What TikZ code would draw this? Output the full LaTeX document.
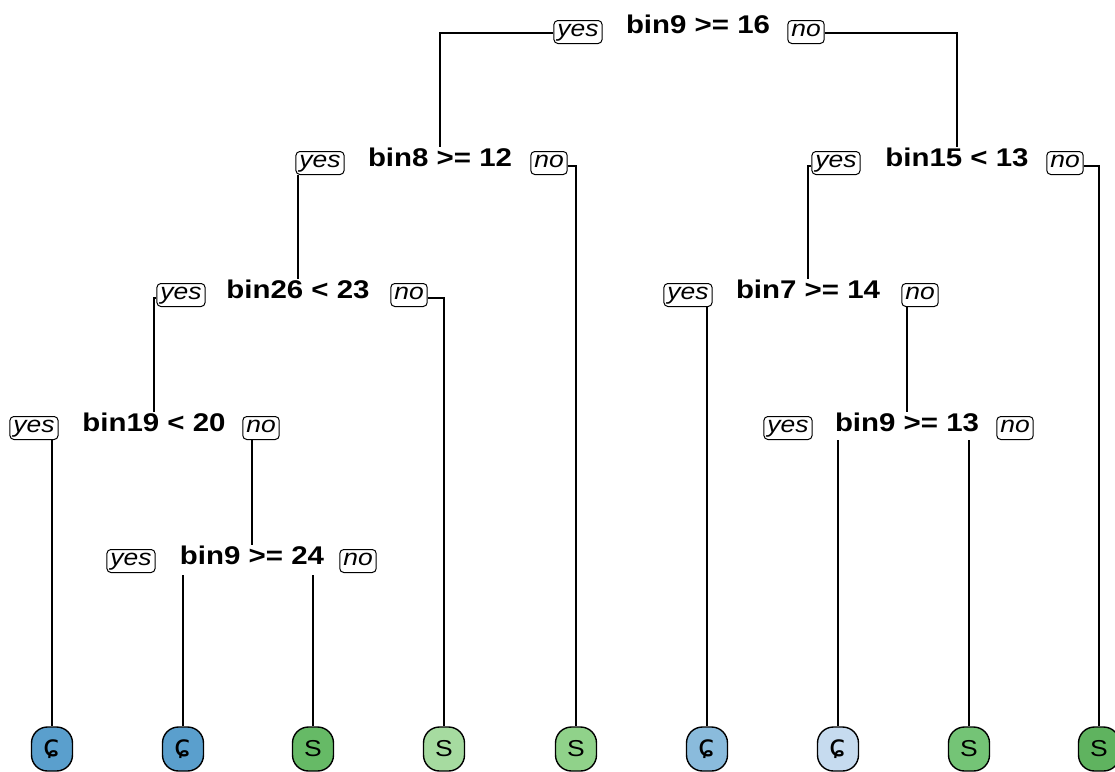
\documentclass[tikz,border=0pt]{standalone}
\usepackage{fontspec}
\setmainfont{Liberation Sans}
\newfontfamily\treefont[FakeStretch=1.15]{Liberation Sans}
\newfontfamily\leaffont[FakeStretch=1.0]{DejaVu Sans}
\usetikzlibrary{positioning}
\usetikzlibrary{calc}
\definecolor{blueA}{HTML}{5A9FCD}
\definecolor{blueB}{HTML}{8ABBDC}
\definecolor{blueC}{HTML}{C6DBEF}
\definecolor{greenA}{HTML}{5FB35F}
\definecolor{greenB}{HTML}{66BA66}
\definecolor{greenC}{HTML}{74C476}
\definecolor{greenD}{HTML}{90D28A}
\definecolor{greenE}{HTML}{A6DBA0}
\newcommand{\curlc}{{\leaffont\fontsize{30}{30}\selectfont ɕ}}

\begin{document}
\begin{tikzpicture}[x=1pt,y=-1pt]
	\tikzset{split/.style = {font=\treefont\bfseries\fontsize{25.6}{28}\selectfont, inner sep=0pt, anchor=base, text depth=0pt},
		yn/.style = {shape=rectangle, rounded corners=4pt, draw, line width=1pt, fill=white, anchor=base,
			font=\treefont\itshape\fontsize{23}{26}\selectfont, inner xsep=3.5pt, inner ysep=2.5pt, text height=13pt, text depth=5pt},
		leaf/.style = {shape=rectangle, rounded corners=16pt, draw, line width=1.4pt, minimum width=41pt, minimum height=44pt,
			inner sep=0pt, font=\treefont\fontsize{23}{26}\selectfont},
		branch/.style = {line width=1.3pt}}
	\useasboundingbox (0,0) rectangle (1115,771);
	
	% splits
	\node[split] (ROOT) at (698,33) {bin9 >= 16};
	\node[yn] (ROOTY) at (578,36) {yes};
	\node[yn] (ROOTN) at (806,36) {no};
	
	\node[split] (BEIGHT) at (440,166) {bin8 >= 12};
	\node[yn] (BEIGHTY) at (320,167) {yes};
	\node[yn] (BEIGHTN) at (549,167) {no};
	
	\node[split] (BFIFTEEN) at (957,166) {bin15 < 13};
	\node[yn] (BFIFTEENY) at (836,167) {yes};
	\node[yn] (BFIFTEENN) at (1065,167) {no};
	
	\node[split] (BTWENTYSIX) at (298,298) {bin26 < 23};
	\node[yn] (BTWENTYSIXY) at (181,299) {yes};
	\node[yn] (BTWENTYSIXN) at (409,299) {no};
	
	\node[split] (BSEVEN) at (808,298) {bin7 >= 14};
	\node[yn] (BSEVENY) at (688,299) {yes};
	\node[yn] (BSEVENN) at (920,299) {no};
	
	\node[split] (BNINETEEN) at (154,431) {bin19 < 20};
	\node[yn] (BNINETEENY) at (34,432) {yes};
	\node[yn] (BNINETEENN) at (261,432) {no};
	
	\node[split] (BNINEB) at (907,431) {bin9 >= 13};
	\node[yn] (BNINEBY) at (788,432) {yes};
	\node[yn] (BNINEBN) at (1015,432) {no};
	
	\node[split] (BNINEC) at (252,564) {bin9 >= 24};
	\node[yn] (BNINECY) at (131,565) {yes};
	\node[yn] (BNINECN) at (358,565) {no};
	
	% leaves
	\node[leaf, fill=blueA] (LONE) at (52,749) {\curlc};
	\node[leaf, fill=blueA] (LTWO) at (183,749) {\curlc};
	\node[leaf, fill=greenB] (LTHREE) at (313,749) {S};
	\node[leaf, fill=greenE] (LFOUR) at (444,749) {S};
	\node[leaf, fill=greenD] (LFIVE) at (576,749) {S};
	\node[leaf, fill=blueB] (LSIX) at (707,749) {\curlc};
	\node[leaf, fill=blueC] (LSEVEN) at (838,749) {\curlc};
	\node[leaf, fill=greenC] (LEIGHT) at (969,749) {S};
	\node[leaf, fill=greenA] (LNINE) at (1099,749) {S};
	
	% branches
	\draw[branch] (ROOTY.west |- ROOT.base) -| (BEIGHT.north);
	\draw[branch] (ROOTN.east |- ROOT.base) -| (BFIFTEEN.north);
	\draw[branch] (BEIGHTY.south -| BTWENTYSIX.north) -- (BTWENTYSIX.north);
	\draw[branch] (BEIGHTN.east |- BEIGHT.base) -| (LFIVE.north);
	\draw[branch] (BFIFTEENY.west |- BFIFTEEN.base) -| (BSEVEN.north);
	\draw[branch] (BFIFTEENN.east |- BFIFTEEN.base) -| (LNINE.north);
	\draw[branch] (BTWENTYSIXY.west |- BTWENTYSIX.base) -| (BNINETEEN.north);
	\draw[branch] (BTWENTYSIXN.east |- BTWENTYSIX.base) -| (LFOUR.north);
	\draw[branch] (BSEVENY.south -| LSIX.north) -- (LSIX.north);
	\draw[branch] (BSEVENN.south -| BNINEB.north) -- (BNINEB.north);
	\draw[branch] (BNINETEENY.south -| LONE.north) -- (LONE.north);
	\draw[branch] (BNINETEENN.south -| BNINEC.north) -- (BNINEC.north);
	\draw[branch] ($(BNINEB.base -| LSEVEN.north)+(0,9)$) -- (LSEVEN.north);
	\draw[branch] ($(BNINEB.base -| LEIGHT.north)+(0,9)$) -- (LEIGHT.north);
	\draw[branch] ($(BNINEC.base -| LTWO.north)+(0,11)$) -- (LTWO.north);
	\draw[branch] ($(BNINEC.base -| LTHREE.north)+(0,11)$) -- (LTHREE.north);
\end{tikzpicture}
\end{document}
